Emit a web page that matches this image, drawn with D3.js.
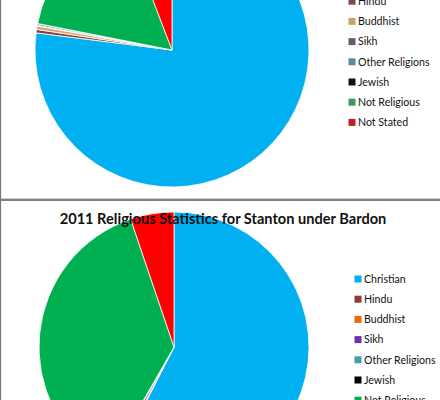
<!DOCTYPE html>
<html><head><meta charset="utf-8">
<script src="https://cdn.jsdelivr.net/npm/d3@7"></script>
<style>html,body{margin:0;padding:0;background:#fff;overflow:hidden}</style>
</head><body>
<script>
const categories = ["Christian","Hindu","Buddhist","Sikh","Other Religions","Jewish","Not Religious","Not Stated"];
const values2001 = [77.0, 0.4, 0.4, 0.1, 0.2, 0.0, 16.1, 5.8];
const values2011 = [57.5, 0.1, 0.1, 0.4, 0.2, 0.0, 36.5, 5.2];
const colors2001 = ["#00b0f0","#8a3b3b","#d6a770","#6b5876","#5b8ea6","#000000","#00b050","#ff0000"];
const colors2011 = ["#00b0f0","#953735","#e46c0a","#7030a0","#4a9aac","#000000","#00b050","#ff0000"];
const legendColors2001 = ["#2aa0dc","#7a4a4a","#c9a46a","#6a5a70","#5a8aa0","#111111","#3a9a5a","#c0202a"];
const title2011 = "2011 Religious Statistics for Stanton under Bardon";

const W = 440, H = 400;
const svg = d3.select("body").append("svg").attr("width", W).attr("height", H)
  .style("font-family", "Lato, 'Open Sans', sans-serif");

function drawPie(values, colors, legendCols, cx, cy, r, legX, legY0) {
  const pie = d3.pie().sort(null).value(d => d)(values);
  const arc = d3.arc().innerRadius(0).outerRadius(r);
  const g = svg.append("g").attr("transform", `translate(${cx},${cy})`);
  g.selectAll("path").data(pie).join("path")
    .attr("d", arc)
    .attr("fill", (d, i) => colors[i])
    .attr("stroke", "#ffffff").attr("stroke-width", 0.8);
  const y = d3.scalePoint().domain(categories).range([legY0, legY0 + 20.2 * (categories.length - 1)]);
  const lg = svg.append("g");
  categories.forEach((c, i) => {
    lg.append("rect").attr("x", legX - 3.5).attr("y", y(c) - 3.5).attr("width", 7).attr("height", 7)
      .attr("fill", legendCols[i]);
    lg.append("text").attr("x", legX + 6).attr("y", y(c)).attr("dy", "0.35em")
      .attr("font-size", "10.6px").attr("fill", "#111").text(c);
  });
}

// top chart (2001) - cropped at top
drawPie(values2001, colors2001, legendColors2001, 172, 50, 137, 352, -19);
// bottom chart (2011)
drawPie(values2011, colors2011, colors2011, 174, 347, 135, 358, 279);

svg.append("text").attr("x", 223).attr("y", 224).attr("text-anchor", "middle")
  .attr("font-size", "14.6px").attr("font-weight", "bold").attr("fill", "#111").text(title2011);

// panel borders
svg.append("line").attr("x1", 0).attr("x2", W).attr("y1", 198.5).attr("y2", 198.5).attr("stroke", "#cfcfcf").attr("stroke-width", 1);
svg.append("line").attr("x1", 0).attr("x2", W).attr("y1", 200).attr("y2", 200).attr("stroke", "#555").attr("stroke-width", 1.5);
svg.append("line").attr("x1", 0.5).attr("x2", 0.5).attr("y1", 0).attr("y2", H).attr("stroke", "#777").attr("stroke-width", 1.2);
</script>
</body></html>
